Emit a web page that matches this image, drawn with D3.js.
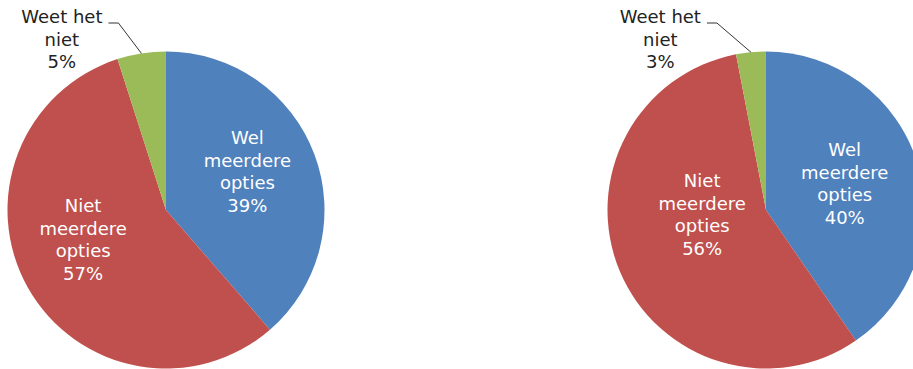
<!DOCTYPE html>
<html>
<head>
<meta charset="utf-8">
<script src="https://cdnjs.cloudflare.com/ajax/libs/d3/7.8.5/d3.min.js"></script>
<style>
  html, body { margin: 0; padding: 0; background: #fff; overflow: hidden; }
  svg { display: block; }
  text { font-family: "DejaVu Sans", Verdana, sans-serif; font-size: 18px; }
</style>
</head>
<body>
<div id="chart"></div>
<script>
// Data
const categories = ["Wel meerdere opties", "Niet meerdere opties", "Weet het niet"];
const labelLines = [["Wel", "meerdere", "opties"], ["Niet", "meerdere", "opties"], ["Weet het", "niet"]];
const valuesLeft = [39, 57, 5];
const valuesRight = [40, 56, 3];
const colors = ["#4F81BD", "#C0504D", "#9BBB59"];

// Layout
const width = 913, height = 369;
const radius = 158.5;
const lineH = 22.5;
const pies = [
  { values: valuesLeft, cx: 166, cy: 210,
    // inside labels: angle shift (deg) from mid-angle and distance from center
    inner: [{ shift: -4.8, r: 90 }, { shift: 9.8, r: 88 }],
    elbowDx: 23, labelTop: 23 },
  { values: valuesRight, cx: 766, cy: 210,
    inner: [{ shift: -1.2, r: 83 }, { shift: 18.7, r: 64 }],
    elbowDx: 34, labelTop: 23 }
];

const svg = d3.select("#chart").append("svg")
    .attr("width", width)
    .attr("height", height);

const pie = d3.pie().sort(null).value(d => d);
const arc = d3.arc().innerRadius(0).outerRadius(radius);

pies.forEach(function (p) {
  const arcs = pie(p.values);
  const g = svg.append("g").attr("transform", "translate(" + p.cx + "," + p.cy + ")");

  g.selectAll("path.slice")
    .data(arcs)
    .enter().append("path")
      .attr("class", "slice")
      .attr("d", arc)
      .attr("fill", (d, i) => colors[i]);

  // labels inside the slices
  arcs.forEach(function (d, i) {
    const conf = p.inner[i];
    if (!conf) return;
    const a = (d.startAngle + d.endAngle) / 2 + conf.shift * Math.PI / 180;
    const x = conf.r * Math.sin(a), y = -conf.r * Math.cos(a);
    const lines = labelLines[i].concat([d.data + "%"]);
    const y0 = y + 6.5 - (lines.length - 1) / 2 * lineH;
    const t = g.append("text")
        .attr("text-anchor", "middle")
        .attr("fill", "#fff");
    lines.forEach(function (s, k) {
      t.append("tspan").attr("x", x).attr("y", y0 + k * lineH).text(s);
    });
  });

  // outside label with leader line for the last slice
  const d = arcs[2];
  const a = (d.startAngle + d.endAngle) / 2;
  const px = radius * Math.sin(a), py = -radius * Math.cos(a);
  const ey = p.labelTop - p.cy;
  const ex = px - p.elbowDx;
  const hx = ex - 10;

  g.append("polyline")
    .attr("points", [[px, py], [ex, ey], [hx, ey]].map(q => q.join(",")).join(" "))
    .attr("fill", "none")
    .attr("stroke", "#333")
    .attr("stroke-width", 1);

  const lines = labelLines[2].concat([d.data + "%"]);
  const t = g.append("text")
      .attr("text-anchor", "middle")
      .attr("fill", "#222");
  const spans = lines.map(function (s, k) {
    return t.append("tspan").attr("y", ey + k * lineH).text(s);
  });
  const maxW = d3.max(spans, s => s.node().getComputedTextLength());
  const bx = hx - 6 - maxW / 2;
  spans.forEach(s => s.attr("x", bx));
});
</script>
</body>
</html>
